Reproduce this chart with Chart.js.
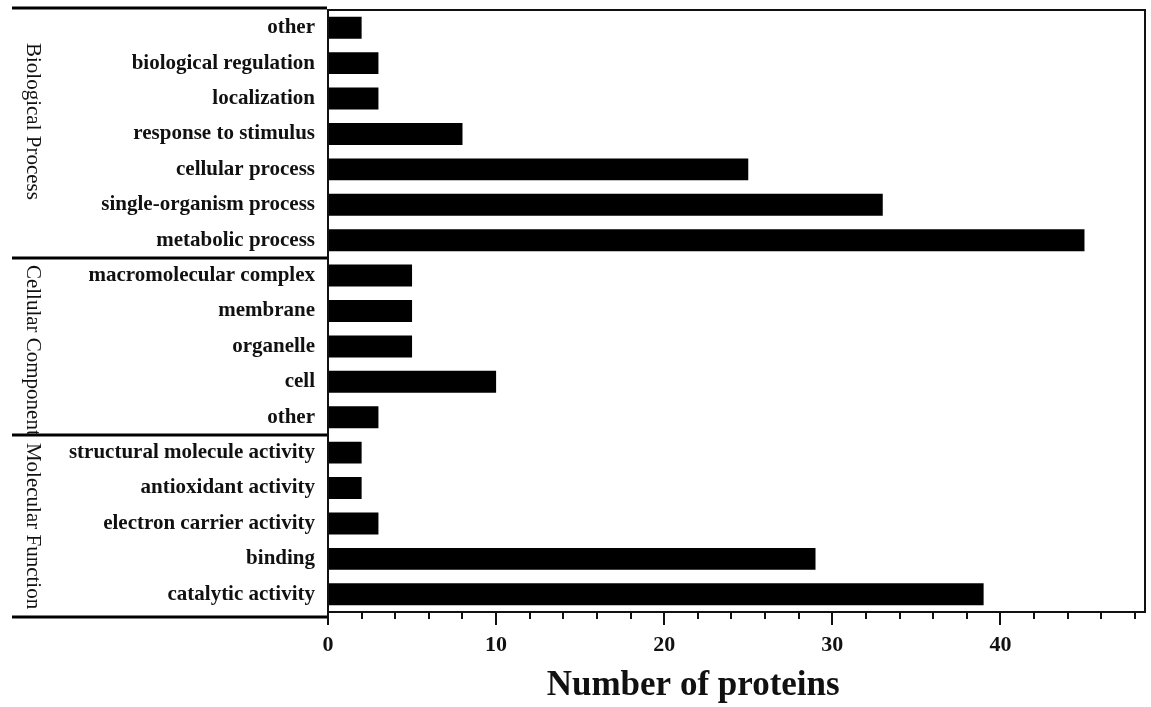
<!DOCTYPE html>
<html><head><meta charset="utf-8">
<script src="https://cdn.jsdelivr.net/npm/chart.js@4.4.0/dist/chart.umd.min.js"></script>
<style>html,body{margin:0;padding:0;background:#fff;overflow:hidden;}</style>
</head><body>
<canvas id="c" width="1151" height="707"></canvas>
<script>
const categories = ['other','biological regulation','localization','response to stimulus','cellular process','single-organism process','metabolic process','macromolecular complex','membrane','organelle','cell','other','structural molecule activity','antioxidant activity','electron carrier activity','binding','catalytic activity'];
const proteinCounts = [2,3,3,8,25,33,45,5,5,5,10,3,2,2,3,29,39];
const groupNames = ['Biological Process','Cellular Component','Molecular Function'];
const groupSizes = [7,5,5];
const xMin = 0, xMax = 48.6, majorStep = 10, minorStep = 2;
const axisTitle = 'Number of proteins';

const SERIF = '"Liberation Serif", "Times New Roman", serif';

const decor = {
  id: 'decor',
  afterDraw(chart) {
    const ctx = chart.ctx;
    const a = chart.chartArea;
    const xs = chart.scales.x, ys = chart.scales.y;
    ctx.save();
    ctx.strokeStyle = '#111';
    ctx.lineWidth = 2;
    ctx.strokeRect(a.left, a.top, a.right - a.left, a.bottom - a.top);
    // ticks
    ctx.beginPath();
    for (let v = xMin; v <= xMax + 1e-9; v += minorStep) {
      const x = Math.round(xs.getPixelForValue(v));
      const len = (Math.abs(v % majorStep) < 1e-9) ? 13 : 7;
      ctx.moveTo(x, a.bottom);
      ctx.lineTo(x, a.bottom + len);
    }
    ctx.stroke();
    // group brackets
    const step = ys.getPixelForValue(1) - ys.getPixelForValue(0);
    const bounds = [];
    let idx = 0;
    bounds.push(a.top - 2);
    groupSizes.forEach((n, gi) => {
      idx += n;
      if (gi < groupSizes.length - 1) bounds.push(ys.getPixelForValue(idx) - step / 2);
    });
    bounds.push(a.bottom + 5);
    ctx.lineWidth = 3;
    ctx.strokeStyle = '#000';
    ctx.beginPath();
    bounds.forEach(y => { ctx.moveTo(12, y); ctx.lineTo(a.left - 1, y); });
    ctx.stroke();
    // group labels
    ctx.fillStyle = '#111';
    ctx.font = '21px ' + SERIF;
    ctx.textAlign = 'left';
    ctx.textBaseline = 'alphabetic';
    const starts = [35, 7, 8];
    groupNames.forEach((name, gi) => {
      ctx.save();
      ctx.translate(27, bounds[gi] + starts[gi]);
      ctx.rotate(Math.PI / 2);
      ctx.fillText(name, 0, 0);
      ctx.restore();
    });
    // axis title
    ctx.font = 'bold 35px ' + SERIF;
    ctx.textAlign = 'center';
    ctx.textBaseline = 'alphabetic';
    ctx.fillText(axisTitle, a.left + (a.right - a.left) * 0.447, a.bottom + 83);
    ctx.restore();
  }
};

new Chart(document.getElementById('c'), {
  type: 'bar',
  data: {
    labels: categories,
    datasets: [{
      data: proteinCounts,
      backgroundColor: '#000',
      borderWidth: 0,
      categoryPercentage: 1,
      barPercentage: 0.62
    }]
  },
  options: {
    indexAxis: 'y',
    responsive: false,
    animation: false,
    devicePixelRatio: 1,
    layout: { padding: { top: 10, right: 6, left: 0, bottom: 0 } },
    plugins: { legend: { display: false }, tooltip: { enabled: false } },
    scales: {
      y: {
        type: 'category',
        grid: { display: false, drawTicks: false },
        border: { display: false },
        ticks: { color: '#111', padding: 13, font: { family: SERIF, size: 21, weight: 'bold' } },
        afterFit(s) { s.width = 328; s.paddingTop = 0; s.paddingBottom = 0; }
      },
      x: {
        type: 'linear',
        min: xMin, max: xMax,
        grid: { display: false, drawTicks: false },
        border: { display: false },
        ticks: { stepSize: majorStep, includeBounds: false, color: '#111', padding: 20,
                 font: { family: SERIF, size: 22, weight: 'bold' } },
        title: { display: false },
        afterFit(s) { s.height = 95; s.paddingLeft = 0; s.paddingRight = 0; }
      }
    }
  },
  plugins: [decor]
});
</script>
</body></html>
